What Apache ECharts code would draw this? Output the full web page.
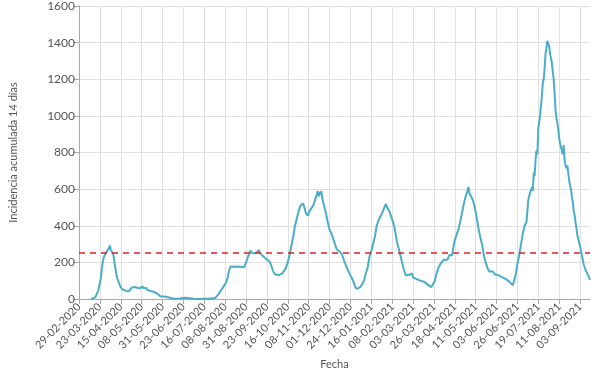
<!DOCTYPE html>
<html><head><meta charset="utf-8">
<script src="https://cdn.jsdelivr.net/npm/echarts@6/dist/echarts.min.js"></script>
<style>html,body{margin:0;padding:0;background:#fff}#c{width:600px;height:375px}</style>
</head><body><div id="c"></div>
<script>
// Axis: daily dates starting 29-02-2020
const startDate = [2020, 2, 29];
const numDays = 564;
const labelEvery = 23;
const yTicks = [0, 200, 400, 600, 800, 1000, 1200, 1400, 1600];
const threshold = 250;
const xName = 'Fecha';
const yName = 'Incidencia acumulada 14 días';

// Samples: day offset from start, value
const sampleDays = [
13,15,17,19,20,21,22,23,24,25,26,27,28,29,30,31,32,33,34,35,36,37,38,39,40,41,42,43,44,45,46,47,48,50,52,54,55,57,58,60,61,62,64,65,66,67,68,69,70,71,72,74,75,77,78,80,82,84,86,88,90,92,94,96,98,100,102,104,106,108,110,112,114,116,118,120,122,124,126,128,130,132,134,136,138,140,142,144,146,148,150,152,154,156,158,160,162,164,165,166,167,168,169,170,172,174,176,178,180,182,183,184,186,188,189,190,191,192,193,194,195,196,197,198,199,200,202,204,206,208,210,212,214,216,218,220,222,224,226,228,230,232,234,236,238,240,242,244,246,247,248,250,252,254,256,258,260,262,263,264,265,266,267,268,270,272,274,276,278,280,282,284,286,288,290,292,294,296,298,300,302,304,306,308,310,312,314,316,318,320,322,324,326,328,330,332,334,336,338,339,340,342,344,346,348,350,352,354,356,357,358,360,362,364,366,367,368,370,372,374,376,378,380,382,384,386,388,390,392,394,396,398,400,402,404,406,408,410,411,412,414,416,418,420,422,424,426,428,429,430,432,434,436,438,440,442,444,446,448,450,452,454,456,458,460,462,464,466,468,470,472,474,476,478,479,481,483,485,487,489,491,493,495,497,499,500,501,502,503,504,505,506,508,509,510,511,512,513,514,515,516,517,518,519,520,521,522,523,524,525,526,527,528,529,530,531,532,533,534,535,536,537,538,539,540,541,542,543,544,545,546,547,548,549,550,552,554,556,558,560,562,563
];
const sampleValues = [
0,2,6,18,22,45,66,70,110,160,195,222,235,245,255,262,268,275,292,270,262,272,238,200,170,140,115,100,88,75,64,57,52,46,44,38,42,50,62,58,65,60,62,56,66,58,62,52,70,58,55,62,50,54,45,42,40,36,30,20,14,12,14,12,10,8,4,3,2,0,2,4,5,8,7,6,4,2,1,0,0,1,0,1,2,2,1,2,3,4,5,10,28,45,58,66,90,120,150,165,178,172,185,176,170,178,172,176,178,174,182,200,228,250,265,262,250,248,245,250,252,244,258,270,255,250,238,230,220,215,205,180,150,135,125,130,128,140,150,170,200,240,290,340,400,440,480,510,520,522,505,470,455,480,495,510,540,570,590,560,585,570,590,550,510,470,420,380,360,330,300,270,260,255,240,210,185,160,140,120,100,70,55,60,65,75,100,140,170,230,260,300,340,400,430,440,470,480,520,505,515,478,450,420,380,320,280,240,200,210,160,128,130,132,125,140,118,120,108,112,100,100,95,90,80,70,65,80,100,140,170,190,200,215,220,215,240,230,238,270,320,350,380,420,470,520,560,590,612,580,560,540,500,450,390,340,300,240,200,170,150,140,150,135,145,130,140,120,125,110,100,95,85,75,72,130,190,240,300,360,400,420,540,580,610,590,690,670,760,810,790,930,1000,1060,1110,1180,1200,1260,1340,1370,1410,1395,1380,1340,1330,1290,1240,1200,1120,1030,990,980,930,880,850,840,860,790,840,760,730,715,730,690,650,620,600,560,530,480,460,420,390,350,330,290,240,190,160,140,118,105
];

function pad(n){return (n<10?'0':'')+n;}
const categories = [];
for (let i = 0; i < numDays; i++) {
  const d = new Date(Date.UTC(startDate[0], startDate[1]-1, startDate[2] + i));
  categories.push(pad(d.getUTCDate()) + '-' + pad(d.getUTCMonth()+1) + '-' + d.getUTCFullYear());
}
const seriesData = sampleDays.map((day, i) => [categories[day], sampleValues[i]]);

const chart = echarts.init(document.getElementById('c'), null, {renderer: 'canvas'});
const font = 'Lato, "Liberation Sans", sans-serif';
chart.setOption({
  animation: false,
  grid: {left: 77, right: 10, top: 6, bottom: 71},
  xAxis: {
    type: 'category', data: categories, boundaryGap: false,
    name: xName, nameLocation: 'middle', nameGap: 60,
    nameTextStyle: {color: '#555', fontSize: 11, fontFamily: font},
    axisLine: {lineStyle: {color: '#aaa'}},
    axisTick: {show: true, interval: labelEvery-1, length: 5, lineStyle: {color: '#aaa'}},
    axisLabel: {interval: labelEvery-1, rotate: 45, color: '#555', fontSize: 11, fontFamily: font, margin: 6},
    splitLine: {show: true, interval: labelEvery-1, lineStyle: {color: '#e0e0e0'}}
  },
  yAxis: {
    type: 'value', min: yTicks[0], max: yTicks[yTicks.length-1], interval: yTicks[1]-yTicks[0],
    name: yName, nameLocation: 'middle', nameGap: 60,
    nameTextStyle: {color: '#555', fontSize: 11, fontFamily: font},
    axisLine: {show: true, lineStyle: {color: '#aaa'}},
    axisTick: {show: true, length: 6, lineStyle: {color: '#aaa'}},
    axisLabel: {color: '#555', fontSize: 12, fontFamily: font, margin: 4, formatter: v => String(v)},
    splitLine: {show: true, lineStyle: {color: '#e0e0e0'}}
  },
  series: [{
    type: 'line', data: seriesData, showSymbol: false, symbol: 'none',
    lineStyle: {color: '#4aaec8', width: 2},
    markLine: {
      silent: true, symbol: 'none', label: {show: false},
      lineStyle: {color: '#e02020', type: [6, 5], width: 1.5},
      data: [{yAxis: threshold}]
    }
  }]
});
</script>
</body></html>
